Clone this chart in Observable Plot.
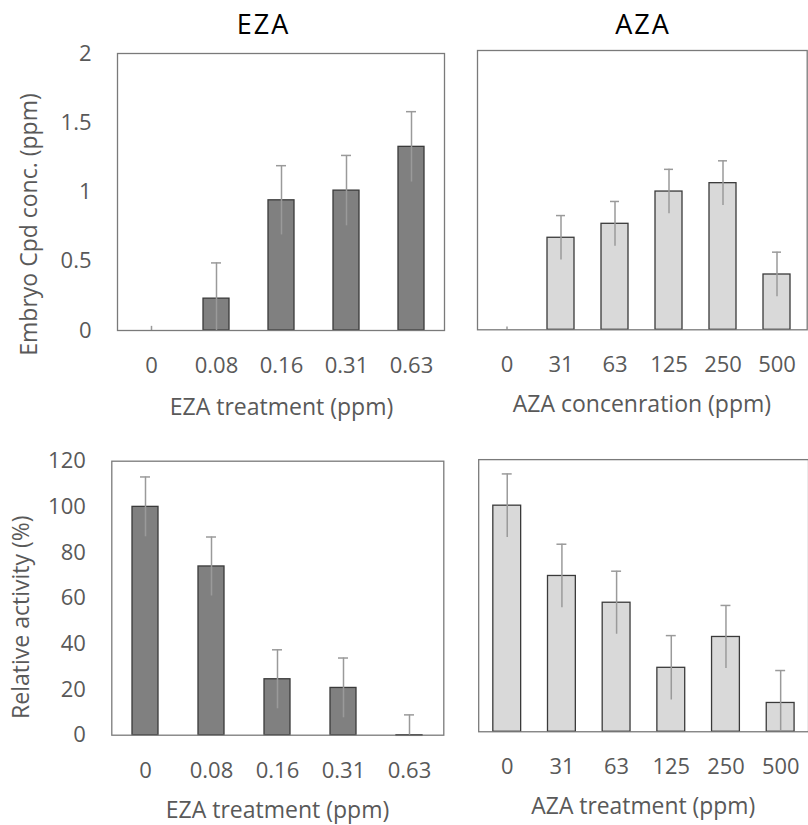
<!DOCTYPE html>
<html>
<head>
<meta charset="utf-8">
<script src="https://cdn.jsdelivr.net/npm/d3@7"></script>
<script src="https://cdn.jsdelivr.net/npm/@observablehq/plot@0.6"></script>
<style>
  body { margin: 0; background: #fff; }
  #wrap { position: relative; width: 808px; height: 825px; overflow: hidden; background: #fff; }
  #wrap > div { position: absolute; }
  svg { overflow: visible; }
</style>
</head>
<body>
<div id="wrap">
  <div id="tl" style="left:0;top:0"></div>
  <div id="tr" style="left:460px;top:0"></div>
  <div id="bl" style="left:0;top:430px"></div>
  <div id="br" style="left:460px;top:430px"></div>
</div>
<script>
// ---- data ----
const ezaDoses = ["0", "0.08", "0.16", "0.31", "0.63"];
const azaDoses = ["0", "31", "63", "125", "250", "500"];

const ezaConc = [0, 0.23, 0.94, 1.01, 1.326];
const ezaConcErr = [0.03, 0.258, 0.25, 0.254, 0.254];
const azaConc = [0, 0.659, 0.759, 0.99, 1.05, 0.396];
const azaConcErr = [0.02, 0.159, 0.16, 0.159, 0.16, 0.16];

const ezaAct = [100, 73.9, 24.5, 20.7, -0.3];
const ezaActErr = [13.1, 12.9, 12.9, 13.1, 9.2];
const azaAct = [99.7, 68.7, 56.9, 28.2, 41.8, 12.7];
const azaActErr = [14.0, 14.0, 13.9, 14.2, 13.9, 14.3];

const yTicksConc = [0, 0.5, 1, 1.5, 2];
const yTicksAct = [0, 20, 40, 60, 80, 100, 120];

const titles = ["EZA", "AZA"];
const yLabels = ["Embryo Cpd conc. (ppm)", "Relative activity (%)"];
const xLabels = ["EZA treatment (ppm)", "AZA concenration (ppm)", "EZA treatment (ppm)", "AZA treatment (ppm)"];

// ---- styling ----
const FONT = "'Open Sans', 'Noto Sans', sans-serif";
const TXT = "#595959";
const DARK = "#808080";
const LIGHT = "#d9d9d9";

function panel({cats, vals, errs, fill, yDomain, yTicks, showY, width, height, margins, pad, capInset, tickPad,
                title, titlePos, yLabel, yLabelPos, xLabel, xLabelPos}) {
  const data = cats.map((c, i) => ({cat: c, v: vals[i], e: errs[i]}));
  const marks = [
    Plot.barY(data, {x: "cat", y: "v", fill, stroke: "#3a3a3a", strokeWidth: 1.3}),
    Plot.ruleX(data, {x: "cat", y1: d => d.v - d.e, y2: d => d.v + d.e, stroke: "#9a9a9a", strokeWidth: 1.5, clip: true}),
    Plot.tickY(data.filter(d => d.v !== 0), {x: "cat", y: d => d.v + d.e, stroke: "#9a9a9a", strokeWidth: 1.5, insetLeft: capInset, insetRight: capInset}),
    Plot.frame({stroke: "#7a7a7a", strokeWidth: 1.3}),
    Plot.axisX({tickSize: 0, tickPadding: tickPad, fontSize: 22, fill: TXT, label: null}),
  ];
  if (showY) {
    marks.push(Plot.axisY({ticks: yTicks, tickSize: 0, tickPadding: 26, fontSize: 22, fill: TXT, label: null, tickFormat: d => String(d)}));
  }
  if (title) {
    marks.push(Plot.text([title], {frameAnchor: "top-left", dx: titlePos[0], dy: titlePos[1], text: d => d,
      fontSize: 27, fill: "#000", textAnchor: "middle", lineAnchor: "middle"}));
  }
  if (yLabel) {
    marks.push(Plot.text([yLabel], {frameAnchor: "top-left", dx: yLabelPos[0], dy: yLabelPos[1], text: d => d,
      fontSize: 23, fill: TXT, rotate: -90, textAnchor: "middle", lineAnchor: "middle"}));
  }
  marks.push(Plot.text([xLabel], {frameAnchor: "bottom-left", dx: xLabelPos[0], dy: xLabelPos[1], text: d => d,
    fontSize: 23, fill: TXT, textAnchor: "middle", lineAnchor: "middle"}));

  const svg = Plot.plot({
    width, height,
    marginLeft: margins[0], marginRight: margins[1], marginTop: margins[2], marginBottom: margins[3],
    style: {fontFamily: FONT, color: TXT, background: "transparent", overflow: "visible"},
    x: {type: "band", domain: cats, paddingInner: pad, paddingOuter: pad / 2, axis: null},
    y: {domain: yDomain, axis: null},
    marks
  });
  if (title) {
    d3.select(svg).selectAll("text").filter(function () { return this.textContent === title; })
      .style("letter-spacing", "2px");
  }
  return svg;
}

document.getElementById("tl").append(panel({
  cats: ezaDoses, vals: ezaConc, errs: ezaConcErr, fill: DARK, yDomain: [0, 2], yTicks: yTicksConc, showY: true,
  width: 460, height: 430, margins: [117, 16, 53, 100], pad: 0.6, capInset: 8, tickPad: 27,
  title: titles[0], titlePos: [146, -28],
  yLabel: yLabels[0], yLabelPos: [-88, 171],
  xLabel: xLabels[0], xLabelPos: [164, 77]
}));
document.getElementById("tr").append(panel({
  cats: azaDoses, vals: azaConc, errs: azaConcErr, fill: LIGHT, yDomain: [0, 2], yTicks: yTicksConc, showY: false,
  width: 348, height: 430, margins: [17, 1.3, 50, 100.7], pad: 0.5, capInset: 9, tickPad: 27,
  title: titles[1], titlePos: [165.5, -25],
  xLabel: xLabels[1], xLabelPos: [164.4, 74.7]
}));
document.getElementById("bl").append(panel({
  cats: ezaDoses, vals: ezaAct, errs: ezaActErr, fill: DARK, yDomain: [0, 120], yTicks: yTicksAct, showY: true,
  width: 460, height: 395, margins: [111.3, 16.7, 30.7, 90.3], pad: 0.6, capInset: 8, tickPad: 27,
  yLabel: yLabels[1], yLabelPos: [-90.3, 156],
  xLabel: xLabels[2], xLabelPos: [165.7, 75]
}));
document.getElementById("br").append(panel({
  cats: azaDoses, vals: azaAct, errs: azaActErr, fill: LIGHT, yDomain: [0, 120], yTicks: yTicksAct, showY: false,
  width: 350, height: 395, margins: [18.3, 0, 29.3, 92], pad: 0.5, capInset: 9, tickPad: 27,
  xLabel: xLabels[3], xLabelPos: [165.5, 75]
}));
</script>
</body>
</html>
